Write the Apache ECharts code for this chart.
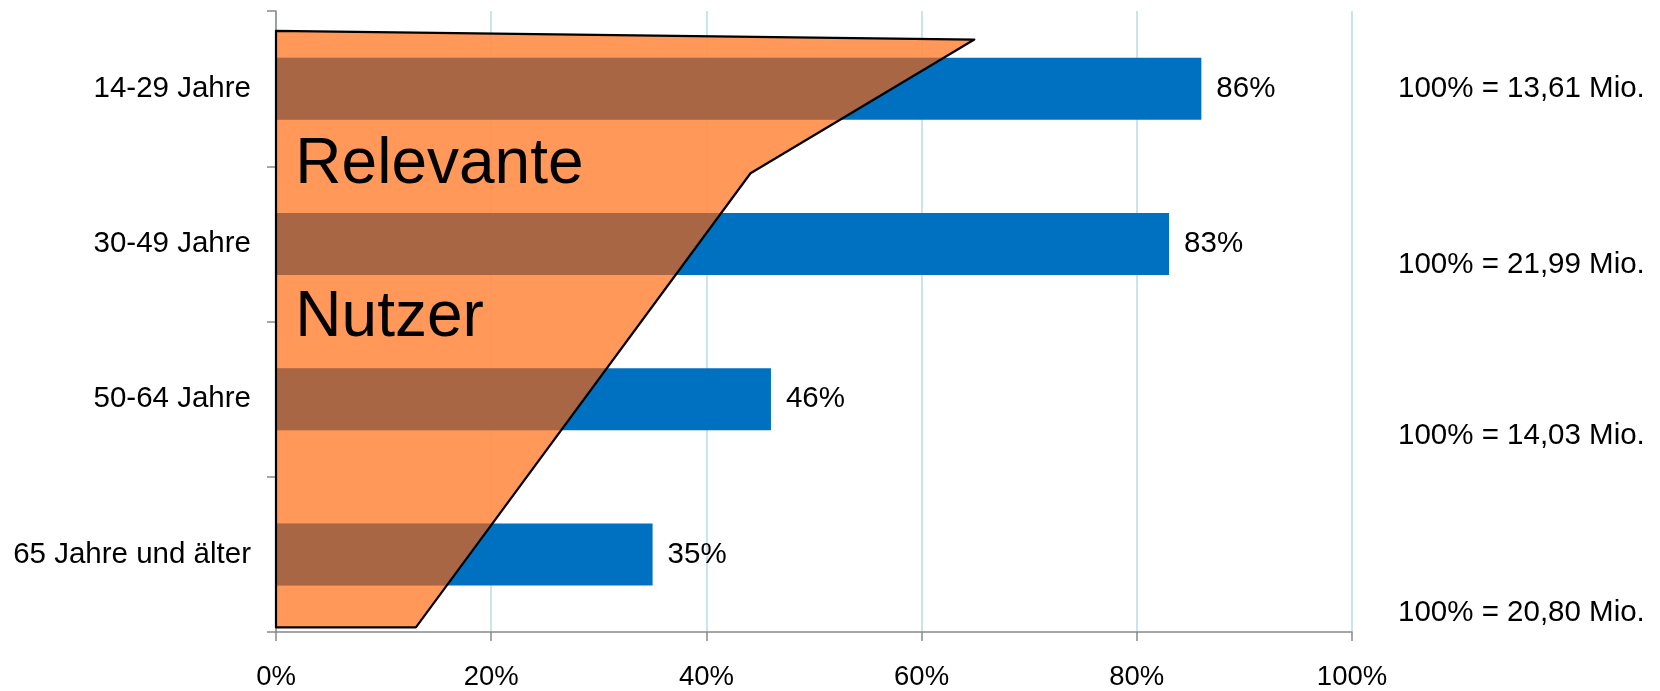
<!DOCTYPE html>
<html><head><meta charset="utf-8">
<script src="https://cdn.jsdelivr.net/npm/echarts/dist/echarts.min.js"></script>
<style>html,body{margin:0;padding:0;background:#fff}#c{width:1660px;height:691px}</style>
</head><body><div id="c"></div>
<script>
// ---- data ----
const categories = ['14-29 Jahre', '30-49 Jahre', '50-64 Jahre', '65 Jahre und älter'];
const shares = [86, 83, 46, 35];
const totals = ['100% = 13,61 Mio.', '100% = 21,99 Mio.', '100% = 14,03 Mio.', '100% = 20,80 Mio.'];
const xMin = 0, xMax = 100, xStep = 20;
// funnel shape: x in %, y in category-band units from the top of the plot
const funnelX = [0, 64.9, 44.1, 13.0, 0];
const funnelY = [0.128, 0.184, 1.045, 3.97, 3.97];
const funnelLabels = ['Relevante', 'Nutzer'];
const funnelLabelX = [1.8, 1.8];
const funnelLabelY = [0.79, 1.775];

// ---- styles ----
const FONT = '"Liberation Sans", Arial, sans-serif';
const BLUE = '#0070C0';
const ORANGE = 'rgba(255,141,71,0.9)';
const BROWN = '#A86645';
const BAR_H = 62;
const FS = 29.5;

const chart = echarts.init(document.getElementById('c'), null, {renderer: 'canvas'});

function bandPx(api, u) {
  const c0 = api.coord([0, 0]), c1 = api.coord([0, 1]);
  const band = c1[1] - c0[1];
  return c0[1] - band / 2 + u * band;
}
function funnelPts(api) {
  return funnelX.map((fx, k) => [api.coord([fx, 0])[0], bandPx(api, funnelY[k])]);
}
function clipPoly(pts, x0, x1, y0, y1) {
  const edges = [
    [p => p[0] >= x0, (a, b) => { const t = (x0 - a[0]) / (b[0] - a[0]); return [x0, a[1] + t * (b[1] - a[1])]; }],
    [p => p[0] <= x1, (a, b) => { const t = (x1 - a[0]) / (b[0] - a[0]); return [x1, a[1] + t * (b[1] - a[1])]; }],
    [p => p[1] >= y0, (a, b) => { const t = (y0 - a[1]) / (b[1] - a[1]); return [a[0] + t * (b[0] - a[0]), y0]; }],
    [p => p[1] <= y1, (a, b) => { const t = (y1 - a[1]) / (b[1] - a[1]); return [a[0] + t * (b[0] - a[0]), y1]; }]
  ];
  let out = pts;
  for (const [inside, inter] of edges) {
    const inp = out; out = [];
    if (!inp.length) break;
    for (let i = 0; i < inp.length; i++) {
      const cur = inp[i], prev = inp[(i + inp.length - 1) % inp.length];
      const ci = inside(cur), pi = inside(prev);
      if (ci) { if (!pi) out.push(inter(prev, cur)); out.push(cur); }
      else if (pi) out.push(inter(prev, cur));
    }
  }
  return out;
}

const option = {
  animation: false,
  backgroundColor: '#fff',
  grid: {left: 276, right: 308, top: 11, bottom: 57, containLabel: false},
  xAxis: {
    type: 'value', min: xMin, max: xMax, interval: xStep,
    axisLine: {show: true, lineStyle: {color: '#898989', width: 1.5}},
    axisTick: {show: true, length: 9, lineStyle: {color: '#898989', width: 1.5}},
    axisLabel: {formatter: '{value}%', fontSize: 27.5, color: '#000', fontFamily: FONT, margin: 31},
    splitLine: {show: true, lineStyle: {color: '#b9dde3', width: 1.5}}
  },
  yAxis: {
    type: 'category', data: categories, inverse: true,
    axisLine: {show: true, lineStyle: {color: '#898989', width: 1.5}},
    axisTick: {show: true, length: 9, lineStyle: {color: '#898989', width: 1.5}},
    axisLabel: {fontSize: FS, color: '#000', fontFamily: FONT, margin: 25},
    splitLine: {show: false}
  },
  series: [
    {
      type: 'bar', data: shares, barWidth: BAR_H, z: 2,
      itemStyle: {color: BLUE},
      label: {show: true, position: 'right', distance: 15, formatter: '{c}%', fontSize: FS, color: '#000', fontFamily: FONT}
    },
    {
      type: 'custom', z: 3, silent: true,
      data: [[0, 0]],
      renderItem: function (params, api) {
        const pts = funnelPts(api);
        return {type: 'polygon', shape: {points: pts}, style: {fill: ORANGE, stroke: null}};
      }
    },
    {
      type: 'custom', z: 4, silent: true,
      data: shares.map((v, i) => [v, i]),
      renderItem: function (params, api) {
        const i = api.value(1);
        const a = api.coord([0, i]), b = api.coord([api.value(0), i]);
        const pts = clipPoly(funnelPts(api), a[0], b[0], a[1] - BAR_H / 2, a[1] + BAR_H / 2);
        if (pts.length < 3) return null;
        return {type: 'polygon', shape: {points: pts}, style: {fill: BROWN, stroke: null}};
      }
    },
    {
      type: 'custom', z: 5, silent: true,
      data: [[0, 0]],
      renderItem: function (params, api) {
        const pts = funnelPts(api);
        const children = [{type: 'polygon', shape: {points: pts}, style: {fill: null, stroke: '#000', lineWidth: 2.2, lineJoin: 'round'}}];
        funnelLabels.forEach((t, k) => {
          children.push({
            type: 'text',
            x: api.coord([funnelLabelX[k], 0])[0],
            y: bandPx(api, funnelLabelY[k]),
            style: {text: t, fill: '#000', font: '64px ' + FONT, align: 'left', verticalAlign: 'top'}
          });
        });
        return {type: 'group', children: children};
      }
    }
  ],
  graphic: totals.map((t, i) => ({
    type: 'text',
    x: 1398,
    y: [89, 265, 436, 613][i],
    style: {text: t, fill: '#000', font: FS + 'px ' + FONT, align: 'left', verticalAlign: 'middle'}
  }))
};
chart.setOption(option);
</script>
</body></html>
